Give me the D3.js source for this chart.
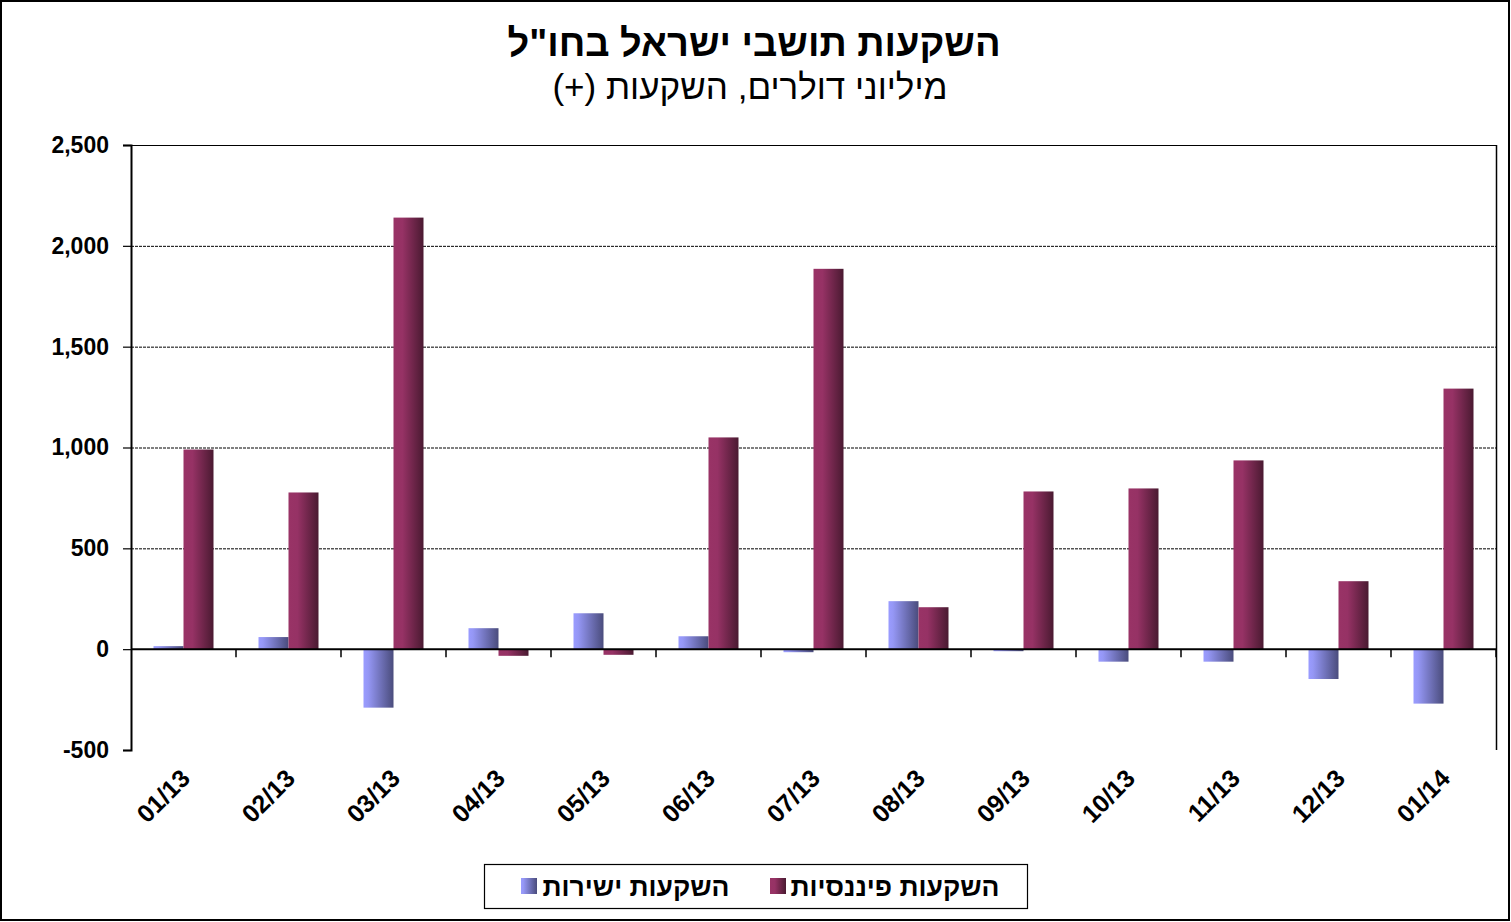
<!DOCTYPE html>
<html><head><meta charset="utf-8">
<script src="https://cdn.jsdelivr.net/npm/d3@7/dist/d3.min.js"></script>
<style>body{margin:0;background:#fff}svg{display:block;font-family:Arial,"Liberation Sans",sans-serif}</style>
</head><body><svg id="c" width="1511" height="922"></svg>
<script>
const categories = ["01/13","02/13","03/13","04/13","05/13","06/13","07/13","08/13","09/13","10/13","11/13","12/13","01/14"];
const direct = [15,60,-290,104,178,64,-15,238,-10,-62,-62,-148,-270];
const financial = [990,777,2140,-33,-28,1050,1886,208,782,797,936,337,1292];
const yTicks = [-500,0,500,1000,1500,2000,2500];
const seriesNames = ["השקעות ישירות","השקעות פיננסיות"];
const title = 'השקעות תושבי ישראל בחו"ל';
const subtitle = "מיליוני דולרים, השקעות (+)";

const svg = d3.select("#c");
const L=131,R=1496,T=145,B=750;
const y = d3.scaleLinear().domain([-500,2500]).range([B,T]);
const x = d3.scaleBand().domain(categories).range([L,R]);
const bw = x.bandwidth();
const x1 = d3.scaleBand().domain([0,1]).range([bw/2-30,bw/2+30]);

const defs = svg.append("defs");
function grad(id, stops){
  const g = defs.append("linearGradient").attr("id",id).attr("x1","0").attr("x2","1").attr("y1","0").attr("y2","0");
  stops.forEach(s=>g.append("stop").attr("offset",s[0]).attr("stop-color",s[1]));
}
grad("gb",[["0%","#9a9cff"],["15%","#9597f5"],["100%","#4a4c7c"]]);
grad("gm",[["0%","#993366"],["30%","#963265"],["100%","#4a1a31"]]);

// outer border
svg.append("rect").attr("x",1).attr("y",1).attr("width",1508).attr("height",919).attr("fill","none").attr("stroke","#000").attr("stroke-width",2);

// gridlines
svg.append("g").selectAll("line").data(yTicks.filter(v=>v>0&&v<2500)).join("line")
  .attr("x1",L).attr("x2",R).attr("y1",d=>y(d)+0.5).attr("y2",d=>y(d)+0.5)
  .attr("stroke","#000").attr("stroke-width",1).attr("stroke-dasharray","3,1");
// plot border top/right
svg.append("line").attr("x1",L).attr("x2",R).attr("y1",y(2500)+0.5).attr("y2",y(2500)+0.5).attr("stroke","#000");
svg.append("line").attr("x1",R+0.5).attr("x2",R+0.5).attr("y1",T).attr("y2",B).attr("stroke","#000").attr("stroke-width",1.5);

// bars
const data = categories.map((c,i)=>({c, v:[direct[i],financial[i]]}));
const g = svg.append("g");
g.selectAll("g").data(data).join("g").attr("transform",d=>`translate(${x(d.c)},0)`)
  .selectAll("rect").data(d=>d.v.map((v,k)=>({v,k}))).join("rect")
  .attr("x",d=>x1(d.k)).attr("width",x1.bandwidth())
  .attr("y",d=>Math.min(y(d.v),y(0))).attr("height",d=>Math.abs(y(d.v)-y(0)))
  .attr("fill",d=>d.k===0?"url(#gb)":"url(#gm)");

// y axis
const fmt = d3.format(",");
const ya = svg.append("g").attr("transform",`translate(${L},0)`)
  .call(d3.axisLeft(y).tickValues(yTicks).tickSize(8).tickPadding(14).tickFormat(d=>fmt(d).replace("\u2212","-")));
ya.select(".domain").attr("stroke-width",2);
ya.selectAll(".tick line").attr("stroke-width",1.2);
ya.selectAll("text").attr("font-size",23).attr("font-weight","bold").attr("fill","#000").attr("font-family","Arial,'Liberation Sans',sans-serif");

// zero line
svg.append("line").attr("x1",L).attr("x2",R).attr("y1",y(0)).attr("y2",y(0)).attr("stroke","#000").attr("stroke-width",2);
// x ticks at band boundaries
svg.append("g").selectAll("line").data(categories.slice(1).concat(["end"])).join("line")
  .attr("x1",d=>d==="end"?R:x(d)).attr("x2",d=>d==="end"?R:x(d))
  .attr("y1",y(0)).attr("y2",y(0)+8).attr("stroke","#000").attr("stroke-width",1.5);

// x labels
svg.append("g").selectAll("text").data(categories).join("text")
  .attr("transform",d=>`translate(${x(d)+bw/2+8},${780}) rotate(-45)`)
  .attr("text-anchor","end").attr("font-size",25).attr("font-weight","bold").text(d=>d);

// title
svg.append("text").attr("x",754).attr("y",56).attr("text-anchor","middle").attr("direction","rtl")
  .attr("font-size",38).attr("font-weight","bold").text(title);
svg.append("text").attr("x",750).attr("y",99).attr("text-anchor","middle").attr("direction","rtl")
  .attr("font-size",35).text(subtitle);

// legend
svg.append("rect").attr("x",484.5).attr("y",864.5).attr("width",543).attr("height",44).attr("fill","#fff").attr("stroke","#000").attr("stroke-width",1.2);
const leg = [{sq:521,tx:636,f:"url(#gb)",t:seriesNames[0]},{sq:770,tx:895,f:"url(#gm)",t:seriesNames[1]}];
leg.forEach(l=>{
  svg.append("rect").attr("x",l.sq).attr("y",878).attr("width",16).attr("height",16).attr("fill",l.f);
  svg.append("text").attr("x",l.tx).attr("y",896).attr("text-anchor","middle").attr("direction","rtl")
    .attr("font-size",26.5).attr("font-weight","bold").text(l.t);
});
</script></body></html>
